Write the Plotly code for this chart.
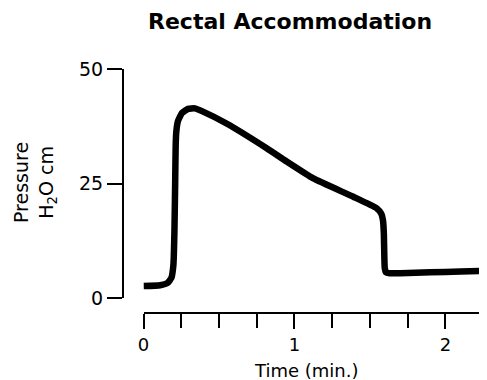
import plotly.graph_objects as go

time_min = [0.0, 0.11, 0.16, 0.185, 0.198, 0.205, 0.21, 0.213, 0.217, 0.228, 0.255, 0.295, 0.34, 0.387,
            0.55, 0.816, 0.948, 1.125, 1.39, 1.544, 1.575, 1.586, 1.592, 1.595, 1.598, 1.606, 1.63, 1.7, 1.9, 2.1, 2.27]
pressure = [2.6, 2.8, 3.3, 4.4, 7.2, 14.8, 25.8, 33.0, 36.2, 38.6, 40.4, 41.3, 41.4, 40.8,
            38.1, 32.7, 29.8, 26.1, 22.1, 19.6, 18.4, 17.0, 14.0, 9.0, 6.5, 5.6, 5.4, 5.4, 5.6, 5.8, 5.9]

y_ticks = [0, 25, 50]
x_ticks = [0, 1, 2]

FONT = "DejaVu Sans"

# page offset of the figure (body margin)
OFF = 8
PL, PR, PT, PB = 123, 487, 69, 313  # plot area in page pixels
PW, PH = PR - PL, PB - PT


def px(xp):
    return (xp - PL) / PW


def py(yp):
    return (PB - yp) / PH


fig = go.Figure()
fig.add_trace(go.Scatter(x=time_min, y=pressure, mode="lines",
                         line=dict(color="black", width=6.5, shape="spline", smoothing=0.4),
                         hoverinfo="skip", showlegend=False))

fig.update_layout(
    width=487 - OFF, height=380 - OFF,
    margin=dict(l=PL - OFF, r=0, t=PT - OFF, b=380 - PB),
    paper_bgcolor="white", plot_bgcolor="white",
    font=dict(family=FONT, color="black", size=18),
    xaxis=dict(domain=[px(143.5), 1], range=[0, 2.275], anchor="free", position=0,
               showline=True, linecolor="black", linewidth=2,
               tickmode="array", tickvals=x_ticks, ticktext=[str(v) for v in x_ticks],
               ticks="outside", ticklen=15, tickwidth=2, tickcolor="black",
               minor=dict(dtick=0.25, tick0=0, ticks="outside", ticklen=14, tickwidth=2,
                          tickcolor="black", showgrid=False),
               showgrid=False, zeroline=False, tickfont=dict(size=18)),
    yaxis=dict(domain=[py(298), 1], range=[0, 50], anchor="free", position=0,
               showline=True, linecolor="black", linewidth=2,
               tickmode="array", tickvals=y_ticks, ticktext=[str(v) for v in y_ticks],
               ticks="outside", ticklen=15, tickwidth=2, tickcolor="black",
               showgrid=False, zeroline=False, tickfont=dict(size=19)),
    annotations=[
        dict(text="<b>Rectal Accommodation</b>", xref="paper", yref="paper",
             x=px(290), y=py(21), xanchor="center", yanchor="middle",
             showarrow=False, font=dict(family=FONT, size=22)),
        dict(text="Pressure<br>H<sub>2</sub>O cm", xref="paper", yref="paper",
             x=px(35), y=py(183), xanchor="center", yanchor="middle",
             textangle=-90, showarrow=False, borderpad=0, font=dict(family=FONT, size=19)),
        dict(text="Time (min.)", xref="paper", yref="paper",
             x=px(305.5), y=py(370), xanchor="center", yanchor="middle",
             showarrow=False, font=dict(family=FONT, size=18)),
    ],
)

fig.write_html("out.html")
